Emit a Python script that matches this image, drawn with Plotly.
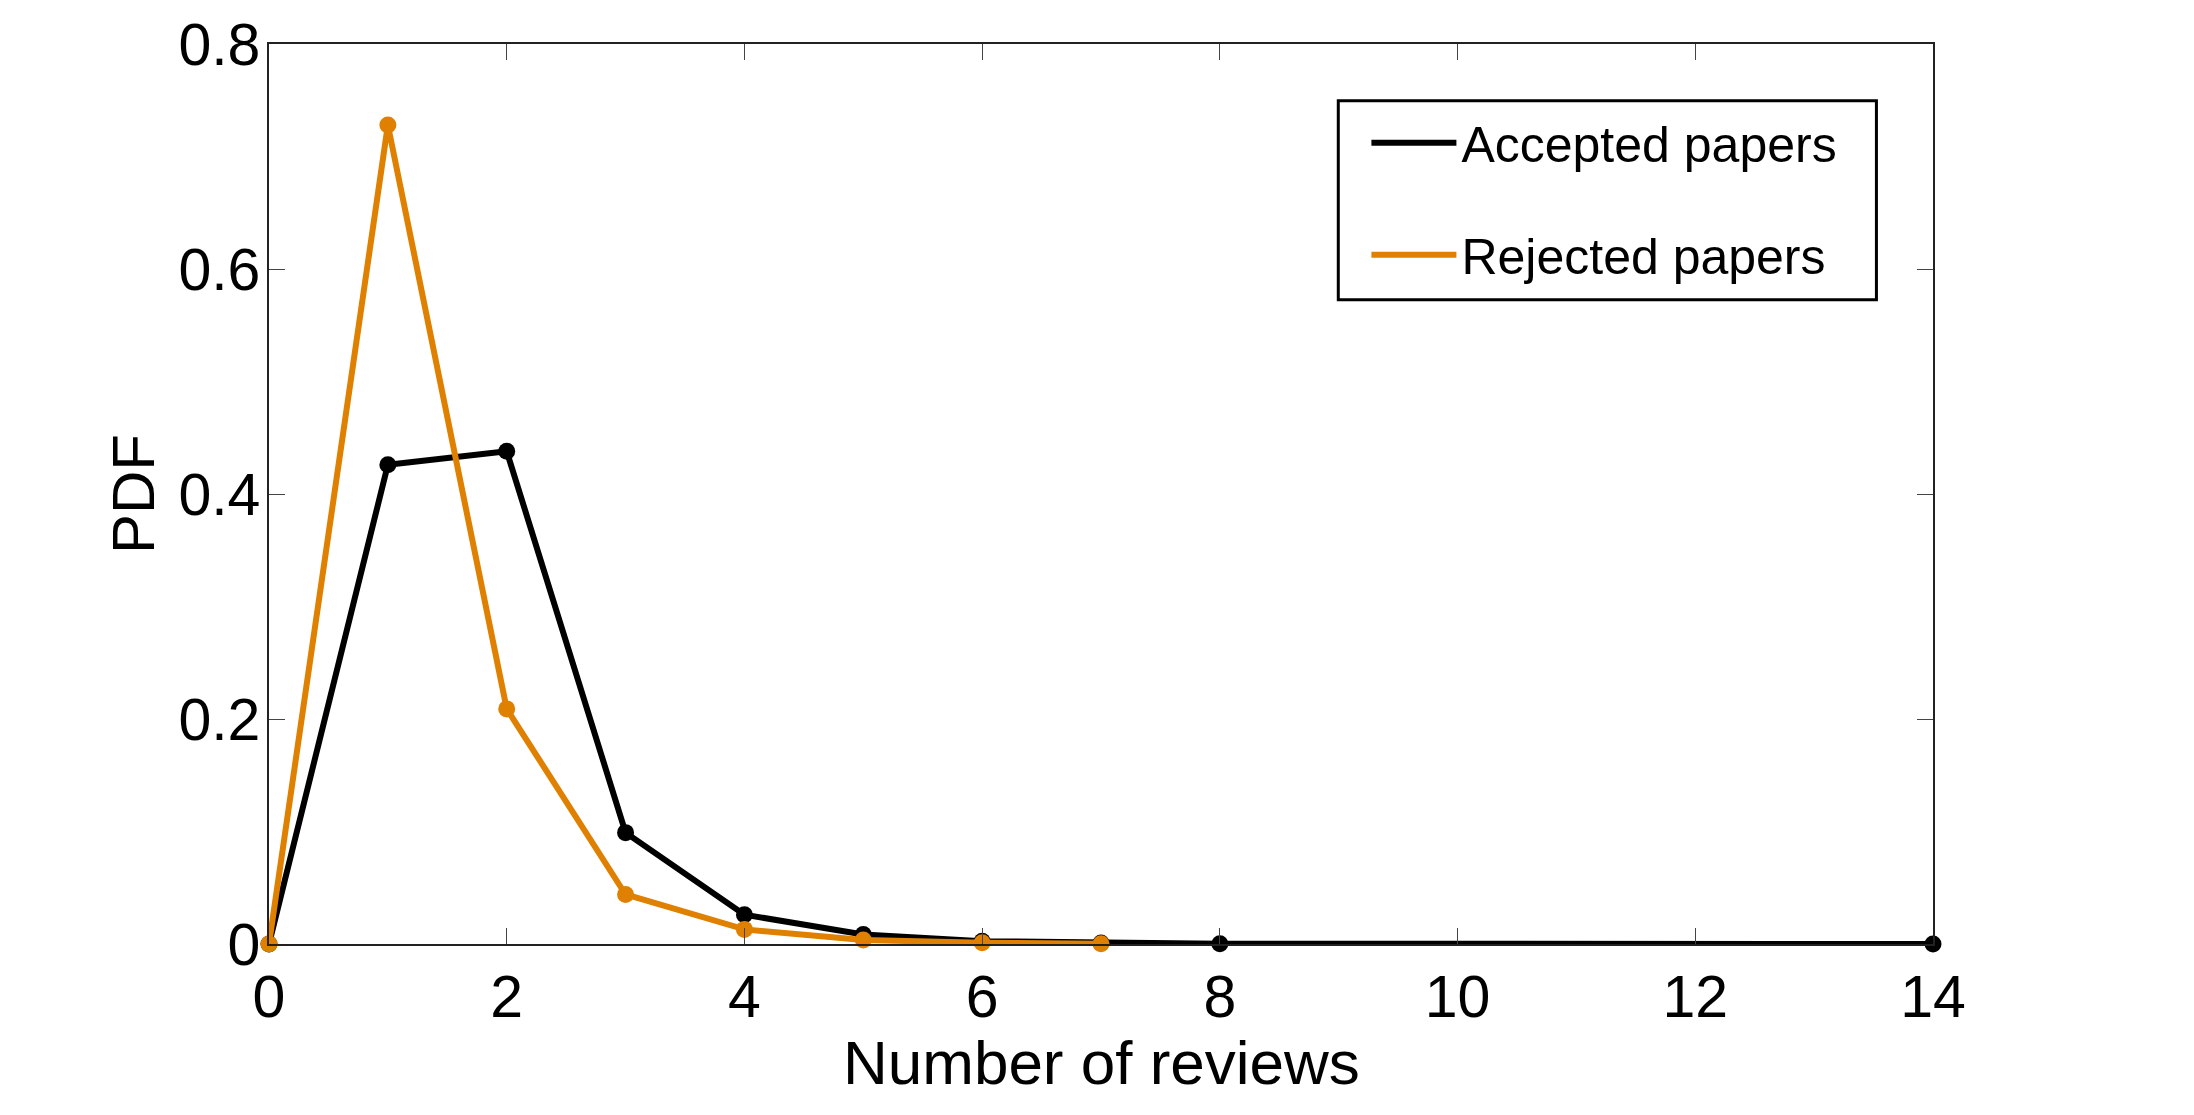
import plotly.graph_objects as go

x_accepted = [0, 1, 2, 3, 4, 5, 6, 7, 8, 14]
y_accepted = [0.0, 0.426, 0.438, 0.099, 0.026, 0.0085, 0.0025, 0.0008, 0.0003, 0.0]
x_rejected = [0, 1, 2, 3, 4, 5, 6, 7]
y_rejected = [0.0, 0.728, 0.209, 0.044, 0.013, 0.0035, 0.0012, 0.0003]

names = ["Accepted papers", "Rejected papers"]
colors = ["#000000", "#E08000"]
x_title = "Number of reviews"
y_title = "PDF"

FONT = "Liberation Sans, Arial, Helvetica, sans-serif"

fig = go.Figure()
for i, (xs, ys) in enumerate([(x_accepted, y_accepted), (x_rejected, y_rejected)]):
    fig.add_trace(go.Scatter(
        x=xs, y=ys, mode="lines", name=names[i],
        line=dict(color=colors[i], width=6),
        legendgroup=names[i], showlegend=True, cliponaxis=False,
    ))
    fig.add_trace(go.Scatter(
        x=xs, y=ys, mode="markers", name=names[i],
        marker=dict(color=colors[i], size=17),
        legendgroup=names[i], showlegend=False, cliponaxis=False,
    ))

axis_common = dict(
    showline=True, linecolor="#222222", linewidth=1.5, mirror="ticks",
    ticks="inside", ticklen=16, tickwidth=1.2, tickcolor="#444444",
    showgrid=False, zeroline=False,
    tickfont=dict(family=FONT, size=59, color="black"),
)

fig.update_xaxes(range=[0, 14], dtick=2, tick0=0, **axis_common)
fig.update_yaxes(
    range=[0, 0.8], dtick=0.2, tick0=0, ticklabelstandoff=-5,
    title=dict(text=y_title, font=dict(family=FONT, size=60, color="black"), standoff=4),
    **axis_common,
)

# x-axis title placed just under the tick labels
fig.add_annotation(
    text=x_title, xref="paper", yref="paper", x=0.5, y=-0.132,
    xanchor="center", yanchor="middle", showarrow=False,
    font=dict(family=FONT, size=62, color="black"),
)

# legend frame (paper coordinates)
fig.add_shape(
    type="rect", xref="paper", yref="paper",
    x0=0.6426, x1=0.9660, y0=0.7157, y1=0.9370,
    line=dict(color="black", width=3), fillcolor="rgba(0,0,0,0)", layer="above",
)

fig.update_layout(
    width=2194, height=1115,
    margin=dict(l=269, r=261, t=44, b=171),
    paper_bgcolor="white", plot_bgcolor="white",
    font=dict(family=FONT, color="black"),
    legend=dict(
        x=0.6595, y=0.9335, xanchor="left", yanchor="top",
        bgcolor="rgba(0,0,0,0)", borderwidth=0,
        font=dict(family=FONT, size=50, color="black"),
        tracegroupgap=44, itemwidth=85,
    ),
)

fig.write_html("out.html")
